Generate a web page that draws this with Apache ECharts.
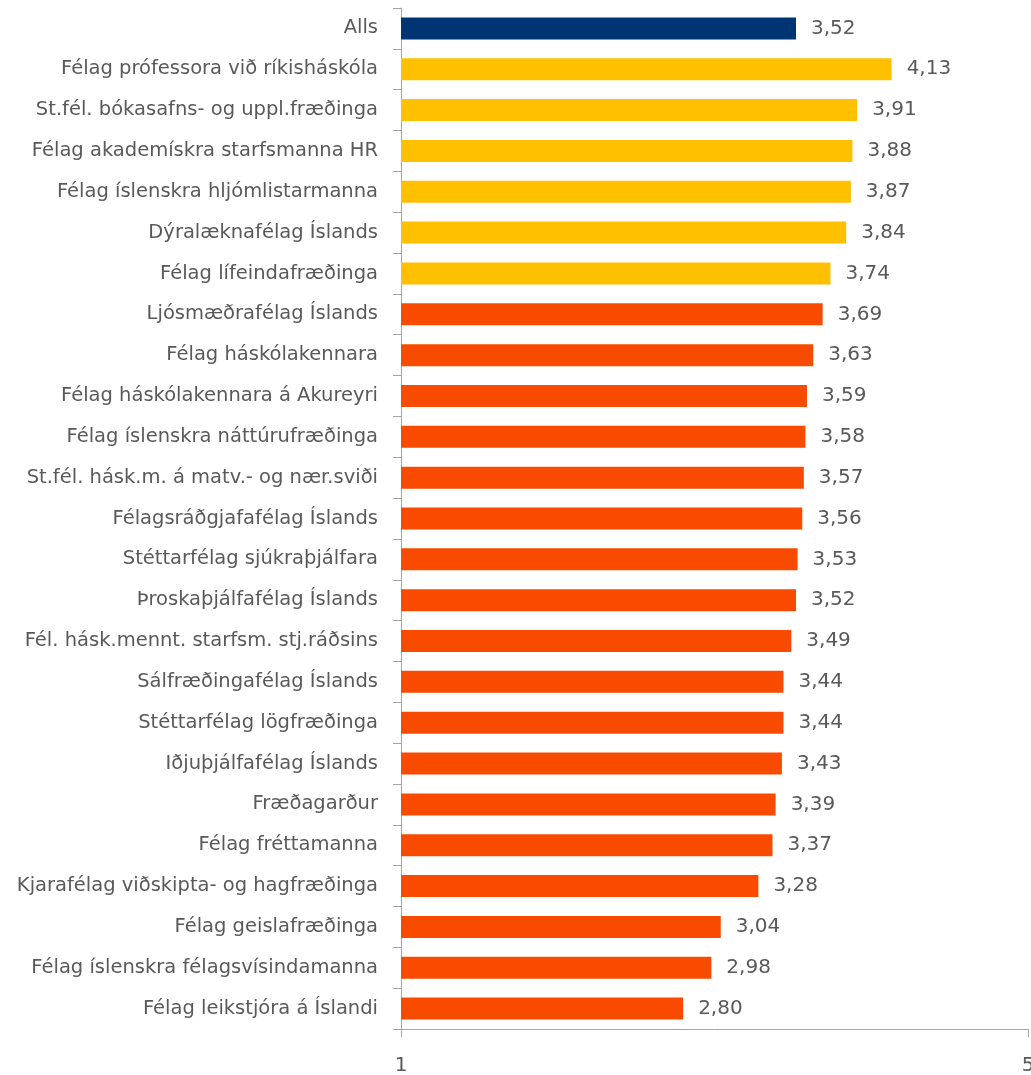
<!DOCTYPE html>
<html>
<head>
<meta charset="utf-8">
<script src="https://cdn.jsdelivr.net/npm/echarts@6/dist/echarts.min.js"></script>
<style>
  html, body { margin: 0; padding: 0; background: #fff; }
  #chart { width: 1031px; height: 1075px; }
</style>
</head>
<body>
<div id="chart"></div>
<script>
var categories = [
    'Alls',
    'Félag prófessora við ríkisháskóla',
    'St.fél. bókasafns- og uppl.fræðinga',
    'Félag akademískra starfsmanna HR',
    'Félag íslenskra hljómlistarmanna',
    'Dýralæknafélag Íslands',
    'Félag lífeindafræðinga',
    'Ljósmæðrafélag Íslands',
    'Félag háskólakennara',
    'Félag háskólakennara á Akureyri',
    'Félag íslenskra náttúrufræðinga',
    'St.fél. hásk.m. á matv.- og nær.sviði',
    'Félagsráðgjafafélag Íslands',
    'Stéttarfélag sjúkraþjálfara',
    'Þroskaþjálfafélag Íslands',
    'Fél. hásk.mennt. starfsm. stj.ráðsins',
    'Sálfræðingafélag Íslands',
    'Stéttarfélag lögfræðinga',
    'Iðjuþjálfafélag Íslands',
    'Fræðagarður',
    'Félag fréttamanna',
    'Kjarafélag viðskipta- og hagfræðinga',
    'Félag geislafræðinga',
    'Félag íslenskra félagsvísindamanna',
    'Félag leikstjóra á Íslandi'
];
var values = [3.52, 4.13, 3.91, 3.88, 3.87, 3.84, 3.74, 3.69, 3.63, 3.59, 3.58, 3.57,
              3.56, 3.53, 3.52, 3.49, 3.44, 3.44, 3.43, 3.39, 3.37, 3.28, 3.04, 2.98, 2.80];
// 0 = heild, 1 = efstu félögin, 2 = önnur
var groups = [0, 1, 1, 1, 1, 1, 1, 2, 2, 2, 2, 2, 2, 2, 2, 2, 2, 2, 2, 2, 2, 2, 2, 2, 2];
var groupColors = ['#003473', '#FFC000', '#F84B00'];
var axisTicks = [1, 5];

var textColor = '#595959';
var font = 'DejaVu Sans';

var barData = values.map(function (v, i) {
    return { value: v, itemStyle: { color: groupColors[groups[i]] } };
});

var option = {
    animation: false,
    grid: { left: 401, right: 3, top: 8, bottom: 46, containLabel: false, outerBoundsMode: 'none' },
    xAxis: {
        type: 'value',
        min: 1,
        max: 5,
        axisLine: { show: true, lineStyle: { color: '#A6A6A6', width: 1 } },
        axisTick: { show: true, length: 8, customValues: axisTicks, lineStyle: { color: '#A6A6A6' } },
        splitLine: { show: false },
        axisLabel: {
            customValues: axisTicks,
            margin: 27,
            color: textColor,
            fontFamily: font,
            fontSize: 20
        }
    },
    yAxis: {
        type: 'category',
        inverse: true,
        data: categories,
        axisLine: { show: true, lineStyle: { color: '#A6A6A6', width: 1 } },
        axisTick: { show: true, length: 8, lineStyle: { color: '#A6A6A6' } },
        axisLabel: {
            margin: 23,
            color: textColor,
            fontFamily: font,
            fontSize: 19.5
        }
    },
    series: [{
        type: 'bar',
        data: barData,
        barWidth: 22,
        label: {
            show: true,
            position: 'right',
            distance: 15,
            color: textColor,
            fontFamily: font,
            fontSize: 20,
            formatter: function (p) {
                return p.value.toFixed(2).replace('.', ',');
            }
        }
    }]
};

var myChart = echarts.init(document.getElementById('chart'));
myChart.setOption(option);
</script>
</body>
</html>
